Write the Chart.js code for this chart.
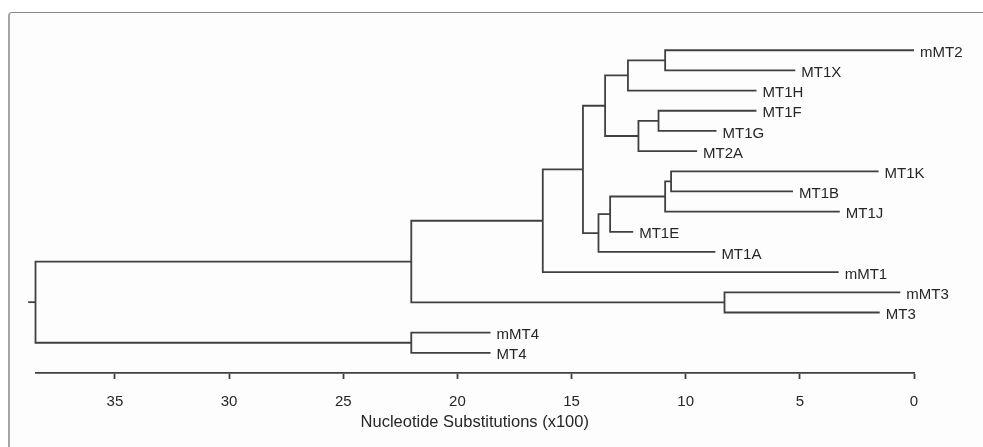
<!DOCTYPE html>
<html lang="en">
<head>
    <meta charset="UTF-8">
    <script src="https://cdn.jsdelivr.net/npm/chart.js"></script>
    <title>Metallothionein tree</title>
    <style>
        body { margin: 0; background: #fff; }
        .panel {
            position: absolute; left: 8px; top: 12px; width: 990px; height: 450px;
            border-left: 2px solid #a5a5a5; border-top: 1.5px solid #8a8a8a;
            border-top-left-radius: 4px; background: #fdfdfd;
        }
        #chart { position: absolute; left: 0; top: 0; }
    </style>
</head>
<body>
    <div class="panel"></div>
    <canvas id="chart" width="983" height="447"></canvas>

    <script>
        // leaves, top to bottom, with the distance where each tip ends
        const leafNames = ['mMT2', 'MT1X', 'MT1H', 'MT1F', 'MT1G', 'MT2A', 'MT1K', 'MT1B',
            'MT1J', 'MT1E', 'MT1A', 'mMT1', 'mMT3', 'MT3', 'mMT4', 'MT4'];
        const leafEnds = [0.0, 5.2, 6.9, 6.9, 8.65, 9.5, 1.55, 5.3,
            3.25, 12.3, 8.7, 3.3, 0.6, 1.5, 18.55, 18.55];

        // joins, in order: left child, right child, height
        const mergeLeft = ['mMT2', 'n1', 'MT1F', 'n3', 'n2', 'MT1K', 'n6', 'n7', 'n8', 'n5', 'n10', 'mMT3', 'n11', 'mMT4', 'n13'];
        const mergeRight = ['MT1X', 'MT1H', 'MT1G', 'MT2A', 'n4', 'MT1B', 'MT1J', 'MT1E', 'MT1A', 'n9', 'mMT1', 'MT3', 'n12', 'MT4', 'n14'];
        const mergeHeight = [10.9, 12.53, 11.19, 12.07, 13.53, 10.64, 10.9, 13.31, 13.82, 14.5, 16.26, 8.3, 22.02, 22.02, 38.48];
        const rootStub = 38.8;

        const tickVals = [35, 30, 25, 20, 15, 10, 5, 0];
        const axisTitle = 'Nucleotide Substitutions (x100)';

        const lineColor = '#404040';
        const textColor = '#262626';

        // node positions: x = height, y = leaf row (mean of children for joins)
        const nodes = {};
        leafNames.forEach((n, i) => nodes[n] = { x: leafEnds[i], y: i });

        const datasets = [];
        mergeLeft.forEach((a, i) => {
            const A = nodes[a], B = nodes[mergeRight[i]], h = mergeHeight[i];
            nodes['n' + (i + 1)] = { x: h, y: (A.y + B.y) / 2 };
            datasets.push({
                data: [{ x: A.x, y: A.y }, { x: h, y: A.y }, { x: h, y: B.y }, { x: B.x, y: B.y }]
            });
        });
        const root = nodes['n' + mergeLeft.length];
        datasets.push({ data: [{ x: root.x, y: root.y }, { x: rootStub, y: root.y }] });

        datasets.forEach(d => Object.assign(d, {
            showLine: true, borderColor: lineColor, borderWidth: 1.8,
            pointRadius: 0, tension: 0, clip: false
        }));

        const leafLabels = {
            id: 'leafLabels',
            afterDatasetsDraw(chart) {
                const ctx = chart.ctx, xs = chart.scales.x, ys = chart.scales.y;
                ctx.save();
                ctx.font = '15px "Liberation Sans", Arial, sans-serif';
                ctx.fillStyle = textColor;
                ctx.textBaseline = 'middle';
                leafNames.forEach((n, i) => {
                    ctx.fillText(n, xs.getPixelForValue(leafEnds[i]) + 6, ys.getPixelForValue(i) + 2.5);
                });
                ctx.restore();
            }
        };

        Chart.defaults.font.family = '"Liberation Sans", Arial, sans-serif';
        Chart.defaults.color = textColor;

        new Chart('chart', {
            type: 'scatter',
            data: { datasets: datasets },
            options: {
                responsive: false,
                animation: false,
                layout: { padding: { left: 35.5, right: 69, top: 20, bottom: 0 } },
                plugins: { legend: { display: false }, tooltip: { enabled: false } },
                scales: {
                    x: {
                        type: 'linear',
                        reverse: true,
                        min: 0,
                        max: 38.48,
                        afterBuildTicks: s => { s.ticks = tickVals.map(v => ({ value: v })); },
                        afterFit: s => { s.height = 74; },
                        grid: { drawOnChartArea: false, tickLength: 6, tickColor: lineColor, tickWidth: 1.8 },
                        border: { color: lineColor, width: 1.8 },
                        ticks: { font: { size: 15 }, padding: 14, maxRotation: 0 },
                        title: {
                            display: true,
                            text: axisTitle,
                            font: { size: 16.5 },
                            padding: { top: 0, bottom: 15 }
                        }
                    },
                    y: {
                        display: false,
                        reverse: true,
                        min: -1.5,
                        max: 16
                    }
                }
            },
            plugins: [leafLabels]
        });
    </script>
</body>
</html>
